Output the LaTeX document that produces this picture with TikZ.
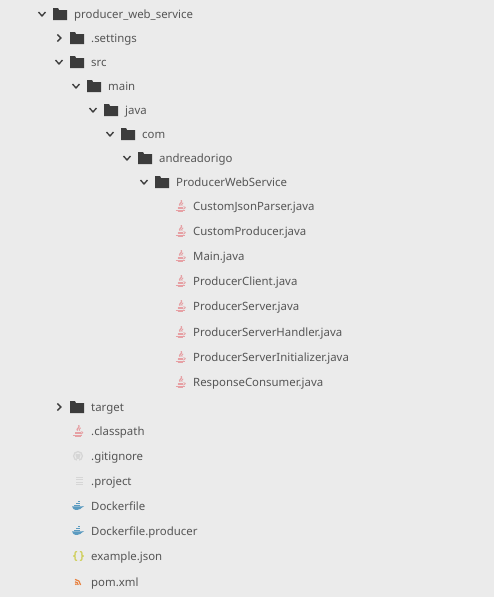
\documentclass[tikz,border=0pt]{standalone}
\usepackage{fontspec}
\setmainfont{Noto Sans}
\usetikzlibrary{calc}
\definecolor{panelbg}{HTML}{EBEBEB}
\definecolor{labelgrey}{HTML}{565656}
\definecolor{foldergrey}{HTML}{3C3C3C}
\definecolor{javared}{HTML}{E6A0A4}
\definecolor{dockerblue}{HTML}{5B9BC0}
\definecolor{jsonyellow}{HTML}{CFCF5A}
\definecolor{rssorange}{HTML}{E8803E}
\definecolor{gitgrey}{HTML}{D6D6D6}
\tikzstyle{entry}=[anchor=base west,inner sep=0pt,text=labelgrey,font=\fontsize{11.4}{13}\selectfont]
\tikzstyle{chev}=[draw=foldergrey,line width=1.4pt]
\tikzset{
  folder/.pic={
    \fill[foldergrey] (-7,-6) -- (-2,-6) -- (-1,-4) -- (7,-4) -- (7,6) -- (-7,6) -- cycle;
  },
  open/.pic={\draw[chev] (-3.5,-1.8) -- (0,1.8) -- (3.5,-1.8);},
  closed/.pic={\draw[chev] (-1.6,-3.5) -- (1.8,0) -- (-1.6,3.5);},
  java/.pic={
    \draw[javared,line width=1pt] (-3,1) -- (2.8,1);
    \draw[javared,line width=1pt] (-3,2.7) -- (2.8,2.7);
    \draw[javared,line width=1pt] (-4.6,4.3) -- (4.4,4.3);
    \draw[javared,line width=1pt] (-2.8,5.8) -- (2.8,5.8);
    \draw[javared,line width=.8pt] (2.8,.8) .. controls (5.6,.4) and (5.4,3) .. (2.8,3.2);
    \draw[javared,line width=1.3pt] (.8,-5.8) .. controls (2.4,-3) and (-2.4,-2.5) .. (-.4,-.3);
    \draw[javared,line width=.9pt] (2.6,-3.2) .. controls (1,-2.2) and (.8,-1.2) .. (1.6,-.3);
  },
  gitmark/.pic={
    \draw[gitgrey,line width=1.3pt] (0,0) circle (4.4);
    \fill[gitgrey] (-2.5,-.4) -- (-2.3,-2.5) -- (-1,-2) -- (1,-2) -- (2.3,-2.5) -- (2.5,-.4) -- (1.6,1.5) -- (1.6,3) -- (-1.6,3) -- (-1.6,1.5) -- cycle;
    \fill[panelbg] (-1.3,3.3) rectangle (1.3,5.8);
  },
  listing/.pic={
    \foreach \k in {-3.6,-1.2,1.2,3.6}
      \draw[black!16,line width=1pt] (-3.2,\k) -- (3.2,\k);
  },
  whale/.pic={
    \fill[dockerblue] (-6,.4) -- (3.6,.4) .. controls (4.6,-.6) and (5.6,-.4) .. (6.2,0) .. controls (5.6,1.1) and (4.8,1.4) .. (4.2,1.4) .. controls (2.5,4) and (-3,4.6) .. (-4.5,3) .. controls (-5.5,2.2) and (-6,1.2) .. (-6,.4) -- cycle;
    \fill[dockerblue] (-4,-1.2) rectangle (-2.2,0);
    \fill[dockerblue] (-1.8,-1.2) rectangle (0,0);
    \fill[dockerblue] (.4,-1.2) rectangle (2.2,0);
    \fill[dockerblue] (-1.8,-3.4) rectangle (0,-1.6);
    \fill[dockerblue] (.4,-3.4) rectangle (2.2,-1.6);
    \fill[dockerblue] (.4,-4.6) rectangle (2.2,-3.8);
  },
  braces/.pic={
    \node[inner sep=0pt,text=jsonyellow,font=\fontsize{11}{12}\selectfont,draw=none,line width=.5pt] {\addfontfeature{FakeBold=2.5}\{\kern2.5pt\}};
  },
  feed/.pic={
    \fill[rssorange] (-2.2,2.2) circle (1);
    \draw[rssorange,line width=1.2pt] (-3,-.2) arc (-90:0:3.2);
    \draw[rssorange,line width=1.2pt] (-3,-2.6) arc (-90:0:5.6);
  }
}
\begin{document}
\begin{tikzpicture}[x=1pt,y=-1pt]
    \useasboundingbox[fill=panelbg] (0,0) rectangle (494,597);

    % folders: row y / indent / name / label / chevron
    \foreach \y/\x/\name/\lab/\state in {
        14/74/root/producer\_web\_service/open,
        38/91/settings/.settings/closed,
        62/91/src/src/open,
        86/108/main/main/open,
        110/125/javadir/java/open,
        134/142/com/com/open,
        158/159/andreadorigo/andreadorigo/open,
        182/176/pws/ProducerWebService/open,
        407/91/target/target/closed}
    {
        \node[entry] (\name) at (\x,\y+4) {\lab};
        \pic at (\x-14,\y) {folder};
        \pic at (\x-32,\y) {\state};
    }

    % java sources
    \foreach \y/\name/\lab in {
        206/parser/CustomJsonParser.java,
        231/producer/CustomProducer.java,
        256/mainfile/Main.java,
        281/client/ProducerClient.java,
        306/server/ProducerServer.java,
        332/handler/ProducerServerHandler.java,
        357/initializer/ProducerServerInitializer.java,
        382/consumer/ResponseConsumer.java}
    {
        \node[entry] (\name) at (193,\y+4) {\lab};
        \pic at (180.5,\y) {java};
    }

    % files at the top level
    \foreach \y/\name/\lab/\icon/\ix in {
        431/classpath/.classpath/java/78,
        456/gitignore/.gitignore/gitmark/78,
        481/project/.project/listing/79.5,
        506/docker/Dockerfile/whale/78,
        531/dockerprod/Dockerfile.producer/whale/78,
        556/json/example.json/braces/78.5,
        582/pom/pom.xml/feed/78}
    {
        \node[entry] (\name) at (91,\y+4) {\lab};
        \pic at (\ix,\y) {\icon};
    }
\end{tikzpicture}
\end{document}
